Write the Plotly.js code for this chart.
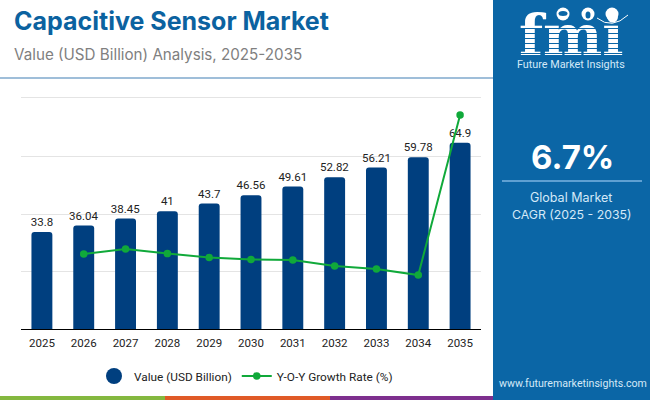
<!DOCTYPE html>
<html><head><meta charset="utf-8">
<script src="https://cdn.plot.ly/plotly-3.0.1.min.js"></script>
<style>html,body{margin:0;padding:0;background:#fff}#w{position:relative;width:650px;height:400px}#c{width:650px;height:400px}
#s{position:absolute;left:515px;top:24px;width:112px;height:34px;pointer-events:none;background:repeating-linear-gradient(to bottom,transparent 0,transparent 4px,#0b66a6 4px,#0b66a6 5px)}</style>
</head><body><div id="w"><div id="c"></div><div id="s"></div></div>
<script>
const years = ['2025','2026','2027','2028','2029','2030','2031','2032','2033','2034','2035'];
const values = [33.8,36.04,38.45,41,43.7,46.56,49.61,52.82,56.21,59.78,64.9];
const valueLabels = ['33.8','36.04','38.45','41','43.7','46.56','49.61','52.82','56.21','59.78','64.9'];
const growth = [null,5.17,5.52,5.2,4.93,4.79,4.76,4.34,4.14,3.72,14.76];

const W=650,H=400,L=21,R=169,T=97,B=71;
const px=x=>(x-L)/(W-L-R), py=y=>1-(y-T)/(H-T-B);
const rect=(x0,y0,x1,y1,c)=>({type:'rect',xref:'paper',yref:'paper',x0:px(x0),x1:px(x1),y0:py(y0),y1:py(y1),fillcolor:c,line:{width:0},layer:'below'});
const hline=(x0,x1,y,c,w)=>({type:'line',xref:'paper',yref:'paper',x0:px(x0),x1:px(x1),y0:py(y),y1:py(y),line:{color:c,width:w},layer:'below'});
const dot=(cx,cy,r,c)=>({type:'circle',xref:'paper',yref:'paper',x0:px(cx-r),x1:px(cx+r),y0:py(cy+r),y1:py(cy-r),fillcolor:c,line:{width:0},layer:'below'});
const oval=(cx,cy,rx,ry,c)=>({type:'circle',xref:'paper',yref:'paper',x0:px(cx-rx),x1:px(cx+rx),y0:py(cy+ry),y1:py(cy-ry),fillcolor:c,line:{width:0},layer:'below'});
const arc=(x0,y0,cx,cy,x1,y1,c)=>({type:'path',xref:'paper',yref:'paper',path:`M ${px(x0)} ${py(y0)} Q ${px(cx)} ${py(cy)} ${px(x1)} ${py(y1)}`,line:{color:c,width:1},layer:'below'});
const txt=(t,x,y,size,color,fam,anchor)=>({text:t,xref:'paper',yref:'paper',x:px(x),y:py(y),xanchor:anchor||'left',yanchor:'middle',showarrow:false,font:{size,color,family:fam}});

const traces=[
 {type:'bar',x:years,y:values,text:valueLabels,textposition:'outside',cliponaxis:false,constraintext:'none',
  textfont:{family:'Roboto',size:11.5,color:'#222'},width:0.5,
  marker:{color:'#003f7f',cornerradius:3},showlegend:false,hoverinfo:'skip',name:'Value (USD Billion)'},
 {type:'scatter',mode:'markers',x:[null],y:[null],name:'Value (USD Billion)',marker:{color:'#003f7f',size:16,symbol:'circle'}},
 {type:'scatter',mode:'lines+markers',x:years,y:growth,yaxis:'y2',name:'Y-O-Y Growth Rate (%)',cliponaxis:false,
  line:{color:'#10a93a',width:2},marker:{color:'#10a93a',size:7.5},connectgaps:false}
];
const layout={
 width:W,height:H,margin:{l:L,r:R,t:T,b:B,pad:0,autoexpand:false},paper_bgcolor:'#fff',plot_bgcolor:'#fff',
 font:{family:'Roboto',color:'#222'},
 bargap:0.5,
 xaxis:{type:'category',range:[-0.5,10.5],tickfont:{family:'Roboto',size:11.5,color:'#222'},ticks:'',showgrid:false,
        showline:true,linecolor:'#000',linewidth:1,zeroline:false,ticklabelstandoff:3},
 yaxis:{range:[0,80.8],tickvals:[0,20,40,60],showticklabels:false,gridcolor:'#e4e4e4',gridwidth:1,zeroline:false,ticks:'',showline:false},
 yaxis2:{range:[0,16],overlaying:'y',side:'right',showgrid:false,showticklabels:false,zeroline:false,ticks:''},
 showlegend:true,
 legend:{orientation:'h',x:px(94),xanchor:'left',y:py(376),yanchor:'middle',font:{family:'Roboto',size:11.8,color:'#222'},itemsizing:'trace',itemwidth:30,tracegroupgap:0,bgcolor:'rgba(0,0,0,0)'},
 shapes:[
  hline(0,493,78,'#7fa8cc',1.5),
  hline(21,481,97.5,'#e4e4e4',1),
  rect(493,0,650,400,'#0b66a6'),
  rect(0,396,165,400,'#84b83f'),
  rect(165,396,330,400,'#e05a27'),
  rect(330,396,493,400,'#7e2f8e'),
  hline(502,642,181,'#7db5e0',1.5),
  dot(563,14,6.5,'#fff'),dot(588,14,6.5,'#fff'),dot(612,14,6.5,'#fff'),
  oval(563,13.5,4.5,2.5,'#0b66a6'),oval(588,15,2.5,3.5,'#0b66a6'),
  arc(597,18,612,30,628,15,'#fff')
 ],
 annotations:[
  txt('<b>Capacitive Sensor Market</b>',12,21,25,'#0b62a0','Inter'),
  txt('Value (USD Billion) Analysis, 2025-2035',12,54,15.2,'#808080','Inter'),
  txt('<b>fmi</b>',571,35,56,'#fff','DejaVu Serif','center'),
  txt('Future Market Insights',571,64,10.8,'#d4e9f8','Roboto','center'),
  txt('<b>6.7%</b>',572,157,33,'#fff','Inter','center'),
  txt('Global Market',571,197,12.5,'#d4e9f8','Inter','center'),
  txt('CAGR (2025 - 2035)',571,214,12.3,'#d4e9f8','Inter','center'),
  txt('www.futuremarketinsights.com',572.5,383,10.6,'#d4e9f8','Roboto','center')
 ]
};
Plotly.newPlot('c',traces,layout,{displayModeBar:false,responsive:false});
</script></body></html>
